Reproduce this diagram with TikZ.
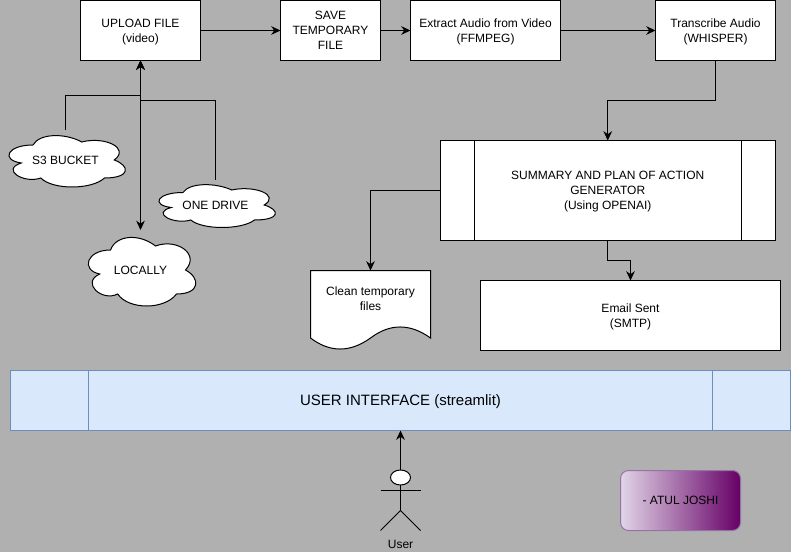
\documentclass[tikz,border=0pt]{standalone}
\usepackage{fontspec}
\setmainfont{Liberation Sans}
\usetikzlibrary{positioning,arrows.meta,shapes.geometric}
\definecolor{wfGray}{RGB}{176,176,176}
\definecolor{wfBlue}{RGB}{218,232,252}
\definecolor{wfBlueLine}{RGB}{108,142,191}
\definecolor{wfLilac}{RGB}{225,213,231}
\definecolor{wfPlum}{RGB}{102,0,102}
\definecolor{wfPlumLine}{RGB}{150,115,166}
\tikzset{
    base/.style={font=\fontsize{9}{11.25}\selectfont, align=center, inner sep=0pt, outer sep=0pt},
    stepbox/.style={base, rectangle, draw=black, fill=white, line width=0.75pt, text depth=0pt,
                    minimum width=90pt, minimum height=45pt},
    uibox/.style={base, rectangle, draw=wfBlueLine, fill=wfBlue, line width=0.75pt, text depth=0pt,
                  font=\fontsize{11.25}{13}\selectfont, minimum width=585pt, minimum height=45pt},
    namebox/.style={base, rectangle, rounded corners=6pt, draw=wfPlumLine, line width=0.75pt,
                    left color=wfLilac, right color=wfPlum,
                    minimum width=90pt, minimum height=45pt},
    outline/.style={draw=black, fill=white, line width=0.75pt},
    wire/.style={draw=black, line width=0.75pt},
    flow/.style={-{Stealth[length=7pt,width=6.5pt]}, wire},
    flowboth/.style={{Stealth[length=7pt,width=6.5pt]}-{Stealth[length=7pt,width=6.5pt]}, wire}
}
% name, left, top, width, height, text
\newcommand{\cloudNode}[6]{%
  \path[outline, shift={(#2,#3)}, xscale=#4, yscale=#5]
    (0.25,0.25) .. controls (0.05,0.25) and (0,0.5) .. (0.16,0.55)
    .. controls (0,0.66) and (0.18,0.9) .. (0.31,0.8)
    .. controls (0.4,1) and (0.7,1) .. (0.8,0.8)
    .. controls (1,0.8) and (1,0.6) .. (0.875,0.5)
    .. controls (1,0.3) and (0.8,0.1) .. (0.625,0.2)
    .. controls (0.5,0.05) and (0.3,0.05) .. (0.25,0.25) -- cycle;
  \node[base, minimum width=#4*0.75pt, minimum height=#5*0.75pt] (#1) at ({#2+#4/2},{#3+#5/2}) {#6};
}
\begin{document}
\begin{tikzpicture}[x=0.75pt,y=-0.75pt]
  \useasboundingbox (0,0) rectangle (791,552);
  \fill[wfGray] (0,0) rectangle (791,552);

  % Top row
  \node[stepbox] (upload) at (140.5,30.5) {UPLOAD FILE\\(video)};
  \node[stepbox, minimum width=75pt, right=60pt of upload] (save) {SAVE\\TEMPORARY\\FILE};
  \node[stepbox, minimum width=112.5pt, right=22.5pt of save] (extract) {Extract Audio from Video\\(FFMPEG)};
  \node[stepbox, right=71.25pt of extract] (transcribe) {Transcribe Audio\\(WHISPER)};

  % Sources
  \cloudNode{sthree}{0.5}{130}{130}{60}{S3 BUCKET}
  \cloudNode{onedrive}{150.5}{180}{130}{50}{ONE DRIVE}
  \cloudNode{locally}{80.5}{230}{120}{80}{LOCALLY}
  \coordinate (sthreebend) at (140.5,95.5);
  \coordinate (onedrivebend) at (140.5,100.5);

  % Generator
  \node[stepbox, minimum width=251.25pt, minimum height=75pt] (summary) at (607.75,190.5)
    {SUMMARY AND PLAN OF ACTION\\GENERATOR\\(Using OPENAI)};
  \draw[wire] ([xshift=25.5pt]summary.north west) -- ([xshift=25.5pt]summary.south west);
  \draw[wire] ([xshift=-25.5pt]summary.north east) -- ([xshift=-25.5pt]summary.south east);

  % Clean up
  \path[outline] (310.5,270.5) -- (430.5,270.5) -- (430.5,338)
    .. controls (410,323.3) and (390,323.3) .. (370.5,338)
    .. controls (350,352.7) and (330,352.7) .. (310.5,338) -- cycle;
  \node[base, minimum width=90pt, minimum height=42.75pt] (clean) at (370.5,299) {Clean temporary\\files};

  % Email
  \node[stepbox, minimum width=225pt, minimum height=52.5pt] (email) at (630.5,315.5) {Email Sent\\(SMTP)};

  % Interface
  \node[uibox] (ui) at (400.5,400.5) {USER INTERFACE (streamlit)};
  \draw[wire, draw=wfBlueLine] ([xshift=58.5pt]ui.north west) -- ([xshift=58.5pt]ui.south west);
  \draw[wire, draw=wfBlueLine] ([xshift=-58.5pt]ui.north east) -- ([xshift=-58.5pt]ui.south east);

  % User
  \node[ellipse, outline, inner sep=0pt, outer sep=0pt, minimum width=15pt, minimum height=11.25pt] (head) at (400.5,477.5) {};
  \coordinate (hip) at (400.5,510.5);
  \draw[wire] (head.south) -- (hip);
  \draw[wire] (380.5,490.5) -- (420.5,490.5);
  \draw[wire] (380.5,530.5) -- (hip) -- (420.5,530.5);
  \node[base] (user) at (400.5,544) {User};

  % Credit
  \node[namebox] (credit) at (680.5,500.5) {- ATUL JOSHI};

  % Arrows
  \draw[flow] (upload) -- (save);
  \draw[flow] (save) -- (extract);
  \draw[flow] (extract) -- (transcribe);
  \draw[flow] (transcribe.south) -- ++(0,40) -| (summary.north);
  \draw[flow] (sthree.north) |- (sthreebend) -- (upload.south);
  \draw[flow] (onedrive.north) |- (onedrivebend) -- (upload.south);
  \draw[flowboth] (upload.south) -- (locally.north);
  \draw[flow] (summary.west) -| (clean.north);
  \draw[flow] (summary.south) -- ++(0,20) -| (email.north);
  \draw[flow] (head.north) -- (ui.south);
\end{tikzpicture}
\end{document}
